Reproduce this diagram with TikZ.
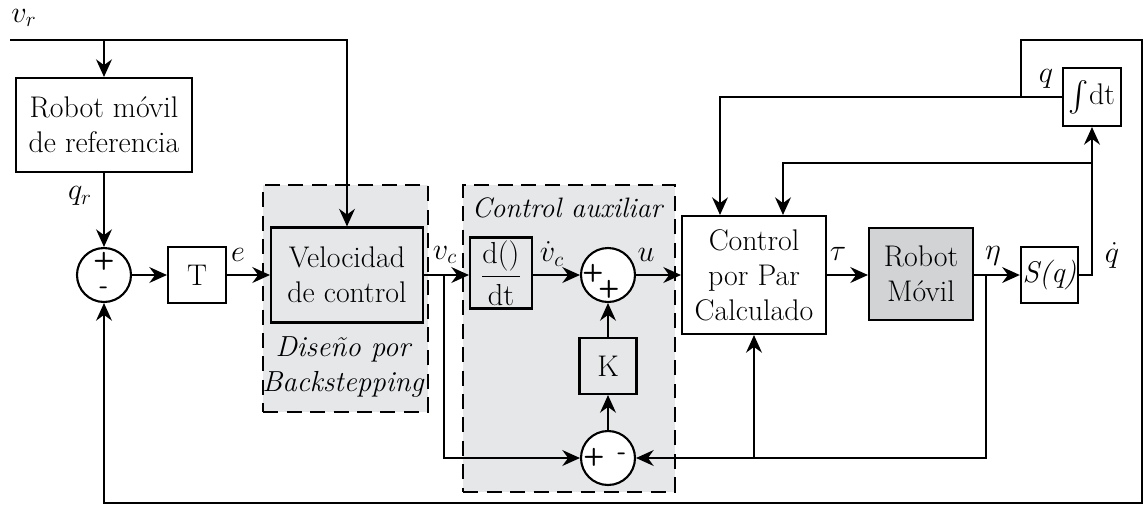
\documentclass[tikz,border=0pt]{standalone}
\usepackage{amsmath}
\usepackage{tikz}
\usetikzlibrary{arrows.meta,positioning,calc}
\definecolor{regiongray}{RGB}{230,231,232}
\definecolor{plantgray}{RGB}{210,211,212}
\begin{document}
\begin{tikzpicture}[x=0.02cm,y=-0.02cm,
        font=\fontsize{17}{20}\selectfont,
        block/.style={draw,line width=1.2pt,fill=white,inner sep=1pt,align=center},
        sumnode/.style={draw,circle,line width=1.2pt,fill=white,minimum size=1.08cm,inner sep=0pt},
        sign/.style={font=\sffamily\bfseries\fontsize{14}{14}\selectfont,inner sep=0pt},
        region/.style={draw,line width=1.2pt,dash pattern=on 0.3cm off 0.17cm,fill=regiongray},
        lbl/.style={inner sep=1pt},
        arr/.style={->,>={Stealth[length=10pt,width=9pt]},line width=1.2pt}]
        \useasboundingbox (0,0) rectangle (1147,505);
        % shaded design regions
        \node[region,minimum width=3.3cm,minimum height=4.54cm] (bsreg) at (345.5,298.5) {};
        \node[region,minimum width=4.24cm,minimum height=6.14cm] (auxreg) at (569,338.5) {};
        \node[lbl,align=center,font=\itshape\fontsize{16.5}{20}\selectfont] (bstxt) at (343,367) {Diseño por\\Backstepping};
        \node[lbl,font=\itshape\fontsize{16}{19}\selectfont] (auxtxt) at (567,208) {Control auxiliar};
        % blocks
        \node[block,minimum width=3.52cm,minimum height=1.88cm] (rref) at (104,125) {Robot móvil\\de referencia};
        \node[sumnode] (sum1) at (104,275) {};
        \node[block,minimum width=1.16cm,minimum height=1.12cm] (tblk) at (197,275) {T};
        \node[block,fill=regiongray,minimum width=3.04cm,minimum height=1.9cm] (vel) at (347,275) {Velocidad\\de control};
        \node[block,fill=regiongray,minimum width=1.24cm,minimum height=1.42cm] (ddt) at (501,273) {$\dfrac{\mathrm{d}()}{\mathrm{dt}}$};
        \node[sumnode] (sum2) at (608,275) {};
        \node[block,fill=regiongray,minimum width=1.14cm,minimum height=1.12cm] (kblk) at (608,366) {K};
        \node[sumnode] (sum3) at (608,458) {};
        \node[block,minimum width=2.88cm,minimum height=2.36cm] (ctrl) at (754,275) {Control\\por Par\\Calculado};
        \node[block,fill=plantgray,minimum width=2.08cm,minimum height=1.84cm] (robot) at (921,274) {Robot\\Móvil};
        \node[block,minimum width=1.14cm,minimum height=1.12cm] (sq) at (1049.5,275) {\textit{S(q)}};
        \node[block,minimum width=1.16cm,minimum height=1.16cm] (intg) at (1092,97) {$\int$dt};
        % signs
        \node[sign] (s1a) at (104,261) {+};
        \node[sign] (s1b) at (104,290) {-};
        \node[sign] (s2a) at (593,273) {+};
        \node[sign] (s2b) at (609,289) {+};
        \node[sign] (s3a) at (594,457) {+};
        \node[sign] (s3b) at (622,456) {-};
        % branch points
        \coordinate (vrin) at (10,40);
        \coordinate (vrsplit) at (104,40);
        \coordinate (vcsplit) at (444,275);
        \coordinate (etasplit) at (986,275);
        \coordinate (qdsplit) at (1092,163);
        \coordinate (qsplit) at (1021,97);
        % signals
        \draw[arr] (vrin) -| (vel.north);
        \draw[arr] (vrsplit) -- (rref.north);
        \draw[arr] (rref) -- (sum1);
        \draw[arr] (sum1) -- (tblk);
        \draw[arr] (tblk) -- (vel);
        \draw[arr] (vel.east) -- (vel.east -| ddt.west);
        \draw[arr] (ddt.east |- sum2.west) -- (sum2.west);
        \draw[arr] (sum2) -- (ctrl);
        \draw[arr] (ctrl) -- (robot.west |- ctrl.east);
        \draw[arr] (robot.east |- sq.west) -- (sq.west);
        \draw[arr] (sq.east) -| (intg.south);
        \draw[arr] (qdsplit) -| ([xshift=0.58cm]ctrl.north);
        \draw[arr] (intg.west) -| ([xshift=-0.68cm]ctrl.north);
        \draw[arr] (qsplit) |- (1142,40) |- (104,503) -- (sum1.south);
        \draw[arr] (vcsplit) |- (sum3.west);
        \draw[arr] (etasplit) |- (sum3.east);
        \draw[arr] (ctrl.south |- sum3.east) -- (ctrl.south);
        \draw[arr] (sum3) -- (kblk);
        \draw[arr] (kblk) -- (sum2);
        % signal labels
        \node[lbl] (lvr) at (24,18) {$v_r$};
        \node[lbl] (lqr) at (80,196) {$q_r$};
        \node[lbl] (le) at (238,255) {$e$};
        \node[lbl] (lvc) at (445,255) {$v_c$};
        \node[lbl] (lvcd) at (552,254) {$\dot v_c$};
        \node[lbl] (lu) at (646,255) {$u$};
        \node[lbl] (ltau) at (838,254) {$\tau$};
        \node[lbl] (leta) at (993,256) {$\eta$};
        \node[lbl] (lqd) at (1112,255) {$\dot q$};
        \node[lbl] (lq) at (1046,79) {$q$};
\end{tikzpicture}
\end{document}
